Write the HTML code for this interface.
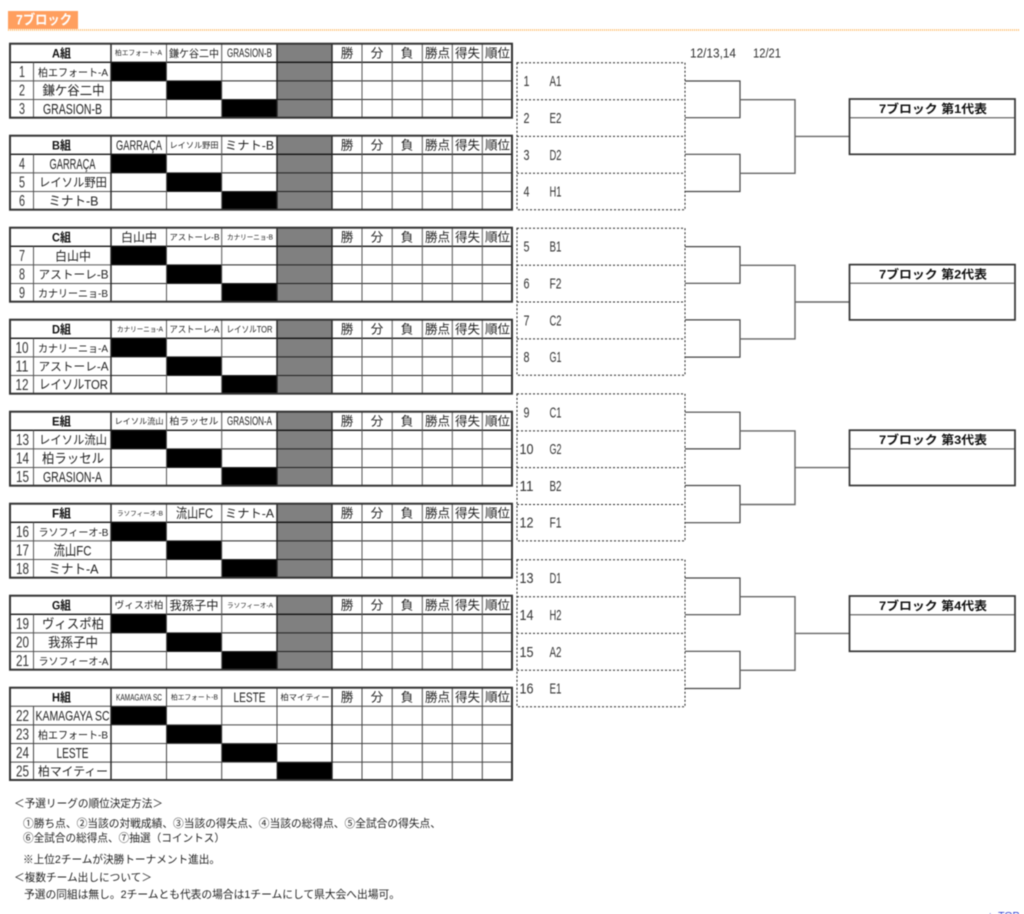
<!DOCTYPE html>
<html lang="ja"><head><meta charset="utf-8"><title>7ブロック</title>
<style>
html,body{margin:0;padding:0;background:#fff;width:1024px;height:914px;overflow:hidden}
svg{display:block;filter:blur(.45px)}
text{font-family:"Liberation Sans","Noto Sans CJK JP",sans-serif;fill:#222;text-anchor:middle}
.s{text-anchor:start}
.b{font-weight:bold;fill:#111}
.n{font-size:16px;fill:#333}
.h{font-size:12.5px;fill:#222}
.f{font-size:15px;fill:#333}
.t{font-size:10.67px;fill:#222;text-anchor:start}
</style></head><body>
<svg width="1024" height="914" viewBox="0 0 1024 914" xmlns="http://www.w3.org/2000/svg">
<defs>
<g id="gc" fill="none">
<path d="M111 37.2H512M111 55.8H512" stroke="#222" stroke-width="1"/>
<path d="M10 18.6H512" stroke="#111" stroke-width="1.3"/>
<path d="M10 37.2H111M10 55.8H111M33.5 18.6V74M166.5 0V74M221.7 0V74M362 0V74M392.2 0V74M422.3 0V74M452.3 0V74M482.3 0V74" stroke="#555" stroke-width="1"/>
</g>
<g id="g3">
<rect x="10" y="0" width="502" height="74" fill="#fff"/>
<rect x="277" y="0" width="55" height="74" fill="#808080"/>
<rect x="111" y="18.6" width="55.5" height="18.6"/>
<rect x="166.5" y="37.2" width="55.2" height="18.6"/>
<rect x="221.7" y="55.8" width="55.3" height="18.2"/>
<use href="#gc"/>
<path d="M111 0V74M277 0V74M332 0V74" stroke="#222" stroke-width="1.4" fill="none"/>
<rect x="10" y="0" width="502" height="74" fill="none" stroke="#333" stroke-width="2"/>
</g>
<g id="g4">
<rect x="10" y="0" width="502" height="92.3" fill="#fff"/>
<rect x="111" y="18.6" width="55.5" height="18.6"/>
<rect x="166.5" y="37.2" width="55.2" height="18.6"/>
<rect x="221.7" y="55.8" width="55.3" height="18.6"/>
<rect x="277" y="74.4" width="55" height="18"/>
<path d="M10 18.6H512M10 37.2H512M10 55.8H512M10 74.4H512M33.5 18.6V92M166.5 0V92M221.7 0V92M277 0V92M362 0V92M392.2 0V92M422.3 0V92M452.3 0V92M482.3 0V92" stroke="#444" stroke-width="1" fill="none"/>
<path d="M111 0V92M332 0V92" stroke="#222" stroke-width="1.4" fill="none"/>
<rect x="10" y="0" width="502" height="92.3" fill="none" stroke="#333" stroke-width="2"/>
</g>
<g id="br">
<rect x="517" y="62.7" width="168" height="147" fill="none" stroke="#222" stroke-width="1" stroke-dasharray="2 2"/>
<path d="M517 99.7H685M517 136.4H685M517 173.3H685" fill="none" stroke="#222" stroke-width="1" stroke-dasharray="2 2"/>
<path d="M685 81H740V117.7H685M685 154.3H740V191.5H685" fill="none" stroke="#444" stroke-width="1.2"/>
<path d="M740 99.7H795V173.3H740M795 136.4H849" fill="none" stroke="#666" stroke-width="1.4"/>
<rect x="849.5" y="99" width="165.5" height="55.3" fill="#fff" stroke="#333" stroke-width="1.7"/>
<path d="M849.5 117.7H1015" stroke="#444" stroke-width="1"/>
</g>
</defs>

<rect x="8" y="11" width="70" height="18" fill="#ff9f5f"/>
<text x="16" y="24.5" class="s" font-size="13.5" font-weight="bold" style="fill:#fff" textLength="56" lengthAdjust="spacingAndGlyphs">7ブロック</text>
<path d="M8 30H1020" stroke="#ffb050" stroke-width="1.5" stroke-dasharray="1 1" fill="none"/>

<!-- Groups -->
<g transform="translate(0,43.7)"><use href="#g3"/>
<text x="61.5" y="14" font-size="12" class="b" textLength="19" lengthAdjust="spacingAndGlyphs">A組</text>
<text x="138.5" y="11.5" font-size="7" textLength="47" lengthAdjust="spacingAndGlyphs">柏エフォート-A</text>
<text x="194" y="13.5" font-size="10.5" textLength="50" lengthAdjust="spacingAndGlyphs">鎌ケ谷二中</text>
<text x="249.5" y="13.5" font-size="11.5" textLength="45" lengthAdjust="spacingAndGlyphs">GRASION-B</text>
<text x="347" y="14" class="h">勝</text><text x="377" y="14" class="h">分</text><text x="407" y="14" class="h">負</text><text x="437.5" y="14" class="h">勝点</text><text x="467.5" y="14" class="h">得失</text><text x="497.5" y="14" class="h">順位</text>
<text x="22" y="33.5" class="n" textLength="6" lengthAdjust="spacingAndGlyphs">1</text>
<text x="22" y="52" class="n" textLength="6" lengthAdjust="spacingAndGlyphs">2</text>
<text x="22" y="70.5" class="n" textLength="6" lengthAdjust="spacingAndGlyphs">3</text>
<text x="73" y="32.5" font-size="10.5" textLength="70" lengthAdjust="spacingAndGlyphs">柏エフォート-A</text>
<text x="73.5" y="51.5" font-size="13" textLength="62" lengthAdjust="spacingAndGlyphs">鎌ケ谷二中</text>
<text x="72.5" y="70.5" font-size="15" textLength="59" lengthAdjust="spacingAndGlyphs">GRASION-B</text>
</g>

<g transform="translate(0,135.7)"><use href="#g3"/>
<text x="61.5" y="14" font-size="12" class="b" textLength="19" lengthAdjust="spacingAndGlyphs">B組</text>
<text x="139" y="14.5" font-size="14" textLength="46" lengthAdjust="spacingAndGlyphs">GARRAÇA</text>
<text x="194" y="12.5" font-size="8" textLength="49" lengthAdjust="spacingAndGlyphs">レイソル野田</text>
<text x="249.5" y="14" font-size="12" textLength="49" lengthAdjust="spacingAndGlyphs">ミナト-B</text>
<text x="347" y="14" class="h">勝</text><text x="377" y="14" class="h">分</text><text x="407" y="14" class="h">負</text><text x="437.5" y="14" class="h">勝点</text><text x="467.5" y="14" class="h">得失</text><text x="497.5" y="14" class="h">順位</text>
<text x="22" y="33.5" class="n" textLength="6" lengthAdjust="spacingAndGlyphs">4</text>
<text x="22" y="52" class="n" textLength="6" lengthAdjust="spacingAndGlyphs">5</text>
<text x="22" y="70.5" class="n" textLength="6" lengthAdjust="spacingAndGlyphs">6</text>
<text x="72.5" y="33.5" font-size="15" textLength="46" lengthAdjust="spacingAndGlyphs">GARRAÇA</text>
<text x="73" y="51" font-size="12" textLength="68" lengthAdjust="spacingAndGlyphs">レイソル野田</text>
<text x="73.5" y="70" font-size="13" textLength="50" lengthAdjust="spacingAndGlyphs">ミナト-B</text>
</g>

<g transform="translate(0,227.7)"><use href="#g3"/>
<text x="61.5" y="14" font-size="12" class="b" textLength="19" lengthAdjust="spacingAndGlyphs">C組</text>
<text x="139" y="14" font-size="12" textLength="36" lengthAdjust="spacingAndGlyphs">白山中</text>
<text x="194.5" y="12.5" font-size="8" textLength="50" lengthAdjust="spacingAndGlyphs">アストーレ-B</text>
<text x="250" y="12" font-size="7" textLength="46" lengthAdjust="spacingAndGlyphs">カナリーニョ-B</text>
<text x="347" y="14" class="h">勝</text><text x="377" y="14" class="h">分</text><text x="407" y="14" class="h">負</text><text x="437.5" y="14" class="h">勝点</text><text x="467.5" y="14" class="h">得失</text><text x="497.5" y="14" class="h">順位</text>
<text x="22" y="33.5" class="n" textLength="6" lengthAdjust="spacingAndGlyphs">7</text>
<text x="22" y="52" class="n" textLength="6" lengthAdjust="spacingAndGlyphs">8</text>
<text x="22" y="70.5" class="n" textLength="6" lengthAdjust="spacingAndGlyphs">9</text>
<text x="73" y="33" font-size="12.5" textLength="36" lengthAdjust="spacingAndGlyphs">白山中</text>
<text x="73.5" y="51" font-size="11.5" textLength="70" lengthAdjust="spacingAndGlyphs">アストーレ-B</text>
<text x="73" y="69.5" font-size="10.5" textLength="70" lengthAdjust="spacingAndGlyphs">カナリーニョ-B</text>
</g>

<g transform="translate(0,319.7)"><use href="#g3"/>
<text x="61.5" y="14" font-size="12" class="b" textLength="19" lengthAdjust="spacingAndGlyphs">D組</text>
<text x="140" y="12" font-size="7" textLength="46" lengthAdjust="spacingAndGlyphs">カナリーニョ-A</text>
<text x="194.5" y="13" font-size="9" textLength="50" lengthAdjust="spacingAndGlyphs">アストーレ-A</text>
<text x="249.5" y="13" font-size="9" textLength="46" lengthAdjust="spacingAndGlyphs">レイソルTOR</text>
<text x="347" y="14" class="h">勝</text><text x="377" y="14" class="h">分</text><text x="407" y="14" class="h">負</text><text x="437.5" y="14" class="h">勝点</text><text x="467.5" y="14" class="h">得失</text><text x="497.5" y="14" class="h">順位</text>
<text x="22" y="33.5" class="n" textLength="13" lengthAdjust="spacingAndGlyphs">10</text>
<text x="22" y="52" class="n" textLength="13" lengthAdjust="spacingAndGlyphs">11</text>
<text x="22" y="70.5" class="n" textLength="13" lengthAdjust="spacingAndGlyphs">12</text>
<text x="73" y="32.5" font-size="10.5" textLength="70" lengthAdjust="spacingAndGlyphs">カナリーニョ-A</text>
<text x="73.5" y="51" font-size="11.5" textLength="70" lengthAdjust="spacingAndGlyphs">アストーレ-A</text>
<text x="73.5" y="69.5" font-size="13" textLength="69" lengthAdjust="spacingAndGlyphs">レイソルTOR</text>
</g>

<g transform="translate(0,411.7)"><use href="#g3"/>
<text x="61.5" y="14" font-size="12" class="b" textLength="19" lengthAdjust="spacingAndGlyphs">E組</text>
<text x="139" y="12.5" font-size="8" textLength="49" lengthAdjust="spacingAndGlyphs">レイソル流山</text>
<text x="194" y="13" font-size="9.5" textLength="49" lengthAdjust="spacingAndGlyphs">柏ラッセル</text>
<text x="249.5" y="13.5" font-size="11.5" textLength="45" lengthAdjust="spacingAndGlyphs">GRASION-A</text>
<text x="347" y="14" class="h">勝</text><text x="377" y="14" class="h">分</text><text x="407" y="14" class="h">負</text><text x="437.5" y="14" class="h">勝点</text><text x="467.5" y="14" class="h">得失</text><text x="497.5" y="14" class="h">順位</text>
<text x="22.5" y="33.5" class="n" textLength="13" lengthAdjust="spacingAndGlyphs">13</text>
<text x="22.5" y="52" class="n" textLength="13" lengthAdjust="spacingAndGlyphs">14</text>
<text x="22.5" y="70.5" class="n" textLength="13" lengthAdjust="spacingAndGlyphs">15</text>
<text x="73" y="32.5" font-size="12" textLength="68" lengthAdjust="spacingAndGlyphs">レイソル流山</text>
<text x="73" y="51.5" font-size="13" textLength="62" lengthAdjust="spacingAndGlyphs">柏ラッセル</text>
<text x="72.5" y="70.5" font-size="15" textLength="59" lengthAdjust="spacingAndGlyphs">GRASION-A</text>
</g>

<g transform="translate(0,503.7)"><use href="#g3"/>
<text x="61.5" y="14" font-size="12" class="b" textLength="19" lengthAdjust="spacingAndGlyphs">F組</text>
<text x="140" y="12" font-size="6.5" textLength="46" lengthAdjust="spacingAndGlyphs">ラソフィーオ-B</text>
<text x="194.5" y="14.5" font-size="13.5" textLength="37" lengthAdjust="spacingAndGlyphs">流山FC</text>
<text x="249.5" y="14" font-size="12" textLength="49" lengthAdjust="spacingAndGlyphs">ミナト-A</text>
<text x="347" y="14" class="h">勝</text><text x="377" y="14" class="h">分</text><text x="407" y="14" class="h">負</text><text x="437.5" y="14" class="h">勝点</text><text x="467.5" y="14" class="h">得失</text><text x="497.5" y="14" class="h">順位</text>
<text x="22.5" y="33.5" class="n" textLength="13" lengthAdjust="spacingAndGlyphs">16</text>
<text x="22.5" y="52" class="n" textLength="13" lengthAdjust="spacingAndGlyphs">17</text>
<text x="22.5" y="70.5" class="n" textLength="13" lengthAdjust="spacingAndGlyphs">18</text>
<text x="73.5" y="32.5" font-size="10" textLength="70" lengthAdjust="spacingAndGlyphs">ラソフィーオ-B</text>
<text x="72.5" y="52" font-size="14" textLength="38" lengthAdjust="spacingAndGlyphs">流山FC</text>
<text x="73.5" y="70" font-size="13" textLength="50" lengthAdjust="spacingAndGlyphs">ミナト-A</text>
</g>

<g transform="translate(0,595.7)"><use href="#g3"/>
<text x="61.5" y="14" font-size="12" class="b" textLength="19" lengthAdjust="spacingAndGlyphs">G組</text>
<text x="139" y="13" font-size="9.5" textLength="49" lengthAdjust="spacingAndGlyphs">ヴィスポ柏</text>
<text x="194" y="14" font-size="12" textLength="49" lengthAdjust="spacingAndGlyphs">我孫子中</text>
<text x="250" y="12" font-size="6.5" textLength="46" lengthAdjust="spacingAndGlyphs">ラソフィーオ-A</text>
<text x="347" y="14" class="h">勝</text><text x="377" y="14" class="h">分</text><text x="407" y="14" class="h">負</text><text x="437.5" y="14" class="h">勝点</text><text x="467.5" y="14" class="h">得失</text><text x="497.5" y="14" class="h">順位</text>
<text x="22.5" y="33.5" class="n" textLength="13" lengthAdjust="spacingAndGlyphs">19</text>
<text x="22.5" y="52" class="n" textLength="13" lengthAdjust="spacingAndGlyphs">20</text>
<text x="22.5" y="70.5" class="n" textLength="13" lengthAdjust="spacingAndGlyphs">21</text>
<text x="73" y="33" font-size="13" textLength="62" lengthAdjust="spacingAndGlyphs">ヴィスポ柏</text>
<text x="73" y="51.5" font-size="13" textLength="50" lengthAdjust="spacingAndGlyphs">我孫子中</text>
<text x="73.5" y="69.5" font-size="10" textLength="70" lengthAdjust="spacingAndGlyphs">ラソフィーオ-A</text>
</g>

<g transform="translate(0,687.7)"><use href="#g4"/>
<text x="61.5" y="14" font-size="12" class="b" textLength="19" lengthAdjust="spacingAndGlyphs">H組</text>
<text x="139" y="13" font-size="9.5" textLength="46" lengthAdjust="spacingAndGlyphs">KAMAGAYA SC</text>
<text x="194.5" y="12" font-size="7" textLength="47" lengthAdjust="spacingAndGlyphs">柏エフォート-B</text>
<text x="249.5" y="14.5" font-size="14" textLength="32" lengthAdjust="spacingAndGlyphs">LESTE</text>
<text x="305" y="12.5" font-size="8" textLength="49" lengthAdjust="spacingAndGlyphs">柏マイティー</text>
<text x="347" y="14" class="h">勝</text><text x="377" y="14" class="h">分</text><text x="407" y="14" class="h">負</text><text x="437.5" y="14" class="h">勝点</text><text x="467.5" y="14" class="h">得失</text><text x="497.5" y="14" class="h">順位</text>
<text x="22.5" y="33.5" class="n" textLength="13" lengthAdjust="spacingAndGlyphs">22</text>
<text x="22.5" y="52" class="n" textLength="13" lengthAdjust="spacingAndGlyphs">23</text>
<text x="22.5" y="70.5" class="n" textLength="13" lengthAdjust="spacingAndGlyphs">24</text>
<text x="22.5" y="89" class="n" textLength="13" lengthAdjust="spacingAndGlyphs">25</text>
<text x="72.5" y="33" font-size="14" textLength="74" lengthAdjust="spacingAndGlyphs">KAMAGAYA SC</text>
<text x="73" y="51" font-size="10.5" textLength="70" lengthAdjust="spacingAndGlyphs">柏エフォート-B</text>
<text x="72.5" y="70.5" font-size="15" textLength="32" lengthAdjust="spacingAndGlyphs">LESTE</text>
<text x="73" y="88" font-size="12" textLength="70" lengthAdjust="spacingAndGlyphs">柏マイティー</text>
</g>

<!-- Dates -->
<text x="690" y="57.5" class="s" font-size="12.5" textLength="46" lengthAdjust="spacingAndGlyphs" style="fill:#333">12/13,14</text>
<text x="753" y="57.5" class="s" font-size="12.5" textLength="28" lengthAdjust="spacingAndGlyphs" style="fill:#333">12/21</text>

<!-- Brackets -->
<use href="#br"/>
<use href="#br" y="165.6"/>
<use href="#br" y="331.2"/>
<use href="#br" y="497"/>

<text x="526.5" y="86" class="f" textLength="6" lengthAdjust="spacingAndGlyphs">1</text><text x="555.5" y="86" class="f" textLength="12" lengthAdjust="spacingAndGlyphs">A1</text>
<text x="526.5" y="123" class="f" textLength="6" lengthAdjust="spacingAndGlyphs">2</text><text x="555.5" y="123" class="f" textLength="12" lengthAdjust="spacingAndGlyphs">E2</text>
<text x="526.5" y="160" class="f" textLength="6" lengthAdjust="spacingAndGlyphs">3</text><text x="555.5" y="160" class="f" textLength="12" lengthAdjust="spacingAndGlyphs">D2</text>
<text x="526.5" y="196.5" class="f" textLength="6" lengthAdjust="spacingAndGlyphs">4</text><text x="555.5" y="196.5" class="f" textLength="12" lengthAdjust="spacingAndGlyphs">H1</text>

<text x="526.5" y="251.5" class="f" textLength="6" lengthAdjust="spacingAndGlyphs">5</text><text x="555.5" y="251.5" class="f" textLength="12" lengthAdjust="spacingAndGlyphs">B1</text>
<text x="526.5" y="288.5" class="f" textLength="6" lengthAdjust="spacingAndGlyphs">6</text><text x="555.5" y="288.5" class="f" textLength="12" lengthAdjust="spacingAndGlyphs">F2</text>
<text x="526.5" y="325.5" class="f" textLength="6" lengthAdjust="spacingAndGlyphs">7</text><text x="555.5" y="325.5" class="f" textLength="12" lengthAdjust="spacingAndGlyphs">C2</text>
<text x="526.5" y="362" class="f" textLength="6" lengthAdjust="spacingAndGlyphs">8</text><text x="555.5" y="362" class="f" textLength="12" lengthAdjust="spacingAndGlyphs">G1</text>

<text x="526.5" y="417.5" class="f" textLength="6" lengthAdjust="spacingAndGlyphs">9</text><text x="555.5" y="417.5" class="f" textLength="12" lengthAdjust="spacingAndGlyphs">C1</text>
<text x="526.5" y="454" class="f" textLength="14" lengthAdjust="spacingAndGlyphs">10</text><text x="555.5" y="454" class="f" textLength="12" lengthAdjust="spacingAndGlyphs">G2</text>
<text x="526.5" y="491" class="f" textLength="14" lengthAdjust="spacingAndGlyphs">11</text><text x="555.5" y="491" class="f" textLength="12" lengthAdjust="spacingAndGlyphs">B2</text>
<text x="526.5" y="527.5" class="f" textLength="14" lengthAdjust="spacingAndGlyphs">12</text><text x="555.5" y="527.5" class="f" textLength="12" lengthAdjust="spacingAndGlyphs">F1</text>

<text x="526.5" y="583" class="f" textLength="14" lengthAdjust="spacingAndGlyphs">13</text><text x="555.5" y="583" class="f" textLength="12" lengthAdjust="spacingAndGlyphs">D1</text>
<text x="526.5" y="620" class="f" textLength="14" lengthAdjust="spacingAndGlyphs">14</text><text x="555.5" y="620" class="f" textLength="12" lengthAdjust="spacingAndGlyphs">H2</text>
<text x="526.5" y="657" class="f" textLength="14" lengthAdjust="spacingAndGlyphs">15</text><text x="555.5" y="657" class="f" textLength="12" lengthAdjust="spacingAndGlyphs">A2</text>
<text x="526.5" y="693.5" class="f" textLength="14" lengthAdjust="spacingAndGlyphs">16</text><text x="555.5" y="693.5" class="f" textLength="12" lengthAdjust="spacingAndGlyphs">E1</text>

<text x="933" y="113" font-size="12" class="b" textLength="108" lengthAdjust="spacingAndGlyphs">7ブロック 第1代表</text>
<text x="933" y="278.6" font-size="12" class="b" textLength="108" lengthAdjust="spacingAndGlyphs">7ブロック 第2代表</text>
<text x="933" y="444.2" font-size="12" class="b" textLength="108" lengthAdjust="spacingAndGlyphs">7ブロック 第3代表</text>
<text x="933" y="610" font-size="12" class="b" textLength="108" lengthAdjust="spacingAndGlyphs">7ブロック 第4代表</text>

<!-- Notes -->
<text x="14" y="807" class="t" textLength="149" lengthAdjust="spacingAndGlyphs">＜予選リーグの順位決定方法＞</text>
<text x="23" y="827" class="t" textLength="418" lengthAdjust="spacingAndGlyphs">①勝ち点、②当該の対戦成績、③当該の得失点、④当該の総得点、⑤全試合の得失点、</text>
<text x="23" y="841.5" class="t" textLength="202" lengthAdjust="spacingAndGlyphs">⑥全試合の総得点、⑦抽選（コイントス）</text>
<text x="23" y="863" class="t" textLength="197" lengthAdjust="spacingAndGlyphs">※上位2チームが決勝トーナメント進出。</text>
<text x="14" y="881" class="t" textLength="138" lengthAdjust="spacingAndGlyphs">＜複数チーム出しについて＞</text>
<text x="24" y="898" class="t" textLength="376" lengthAdjust="spacingAndGlyphs">予選の同組は無し。2チームとも代表の場合は1チームにして県大会へ出場可。</text>

<text x="985" y="919" class="s" font-size="10.5" style="fill:#2233cc">▲ TOP</text>
</svg>
</body></html>
